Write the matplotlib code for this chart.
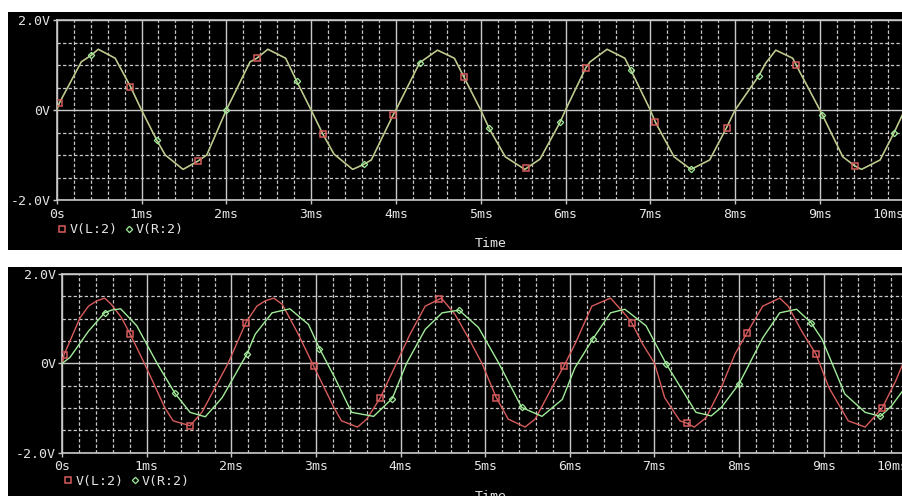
import matplotlib.pyplot as plt
import numpy as np
from matplotlib.patches import Rectangle
from matplotlib.lines import Line2D

# ---- data read off the two PSpice probe windows (time in ms, volts) ----
# top window: V(L:2) and V(R:2) lie on top of each other
top_t = [0.00, 0.03, 0.29, 0.41, 0.49, 0.69, 0.87, 1.00, 1.18, 1.28, 1.49, 1.67, 1.77,
         2.00, 2.28, 2.36, 2.49, 2.70, 2.83, 3.00, 3.14, 3.27, 3.49, 3.62, 3.71, 3.97,
         4.00, 4.28, 4.49, 4.69, 4.80, 5.00, 5.10, 5.29, 5.52, 5.70, 5.94, 6.00, 6.24,
         6.29, 6.49, 6.70, 6.77, 7.00, 7.06, 7.28, 7.48, 7.70, 7.90, 8.00, 8.28, 8.36,
         8.48, 8.68, 8.72, 9.00, 9.03, 9.27, 9.41, 9.49, 9.71, 9.87, 10.00]
top_v = [0.00, 0.15, 1.07, 1.22, 1.35, 1.15, 0.52, 0.00, -0.67, -1.00, -1.32, -1.13, -1.00,
         0.00, 1.07, 1.15, 1.35, 1.15, 0.64, 0.00, -0.54, -0.98, -1.32, -1.21, -1.11, -0.10,
         0.00, 1.05, 1.33, 1.15, 0.74, 0.00, -0.41, -1.04, -1.32, -1.09, -0.26, 0.00, 0.94,
         1.07, 1.35, 1.15, 0.89, 0.00, -0.27, -1.04, -1.32, -1.11, -0.39, 0.00, 0.76, 1.04,
         1.33, 1.15, 1.00, 0.00, -0.11, -1.04, -1.24, -1.32, -1.11, -0.52, 0.00]
top_l_mark_t = [0.03, 0.87, 1.67, 2.36, 3.14, 3.97, 4.80, 5.53, 6.24, 7.06, 7.90, 8.72, 9.41]
top_l_mark_v = [0.15, 0.52, -1.13, 1.15, -0.54, -0.10, 0.74, -1.28, 0.94, -0.27, -0.39, 1.00, -1.24]
top_r_mark_t = [0.41, 1.18, 2.00, 2.83, 3.62, 4.28, 5.10, 5.94, 6.77, 7.48, 8.28, 9.03, 9.87]
top_r_mark_v = [1.22, -0.67, 0.00, 0.64, -1.21, 1.05, -0.41, -0.26, 0.89, -1.32, 0.76, -0.11, -0.52]

# bottom window: V(L:2) leads, V(R:2) lags and is smaller
bot_l_t = [0.00, 0.02, 0.21, 0.31, 0.41, 0.50, 0.58, 0.70, 0.80, 0.97, 1.21, 1.31, 1.51, 1.65,
           1.96, 2.17, 2.30, 2.40, 2.50, 2.60, 2.79, 2.97, 3.21, 3.30, 3.49, 3.60, 3.76, 3.95,
           4.11, 4.29, 4.45, 4.48, 4.64, 4.80, 4.96, 5.13, 5.27, 5.47, 5.59, 5.79, 5.93, 6.06,
           6.26, 6.48, 6.65, 6.73, 6.86, 7.00, 7.12, 7.30, 7.38, 7.47, 7.61, 7.79, 7.95, 8.09,
           8.28, 8.48, 8.58, 8.74, 8.91, 9.06, 9.29, 9.49, 9.69, 9.85, 10.00]
bot_l_v = [0.00, 0.19, 1.02, 1.28, 1.40, 1.46, 1.32, 1.02, 0.66, 0.00, -0.99, -1.29, -1.40, -1.10,
           0.00, 0.91, 1.28, 1.40, 1.46, 1.32, 0.65, -0.06, -0.99, -1.29, -1.43, -1.25, -0.77, 0.00,
           0.65, 1.28, 1.43, 1.46, 1.10, 0.57, 0.00, -0.77, -1.25, -1.43, -1.25, -0.54, -0.06, 0.43,
           1.28, 1.46, 1.10, 0.91, 0.43, 0.00, -0.77, -1.29, -1.34, -1.43, -1.22, -0.54, 0.20, 0.67,
           1.28, 1.46, 1.28, 0.72, 0.20, -0.54, -1.29, -1.43, -1.01, -0.40, 0.28]
bot_r_t = [0.00, 0.09, 0.31, 0.50, 0.58, 0.69, 0.88, 1.12, 1.33, 1.51, 1.69, 1.89, 2.12, 2.18,
           2.28, 2.48, 2.69, 2.91, 3.04, 3.22, 3.42, 3.68, 3.90, 4.07, 4.29, 4.49, 4.69, 4.92,
           5.16, 5.43, 5.67, 5.91, 6.06, 6.27, 6.48, 6.65, 6.90, 7.14, 7.49, 7.67, 7.79, 8.00,
           8.28, 8.48, 8.68, 8.85, 8.98, 9.25, 9.49, 9.67, 9.80, 10.00]
bot_r_v = [0.00, 0.13, 0.72, 1.13, 1.19, 1.22, 0.84, 0.00, -0.67, -1.10, -1.20, -0.77, 0.00, 0.20,
           0.65, 1.13, 1.22, 0.87, 0.33, -0.32, -1.10, -1.19, -0.79, 0.00, 0.76, 1.13, 1.19, 0.80,
           0.00, -0.99, -1.19, -0.81, -0.10, 0.54, 1.13, 1.21, 0.84, -0.02, -1.10, -1.18, -0.99,
           -0.46, 0.57, 1.13, 1.21, 0.91, 0.54, -0.69, -1.10, -1.19, -0.96, -0.45]
bot_l_mark_t = [0.02, 0.80, 1.51, 2.17, 2.97, 3.76, 4.45, 5.13, 5.93, 6.73, 7.38, 8.09, 8.91, 9.69]
bot_l_mark_v = [0.19, 0.66, -1.40, 0.91, -0.06, -0.77, 1.43, -0.77, -0.06, 0.91, -1.34, 0.67, 0.20, -1.01]
bot_r_mark_t = [0.50, 1.33, 2.18, 3.04, 3.90, 4.69, 5.43, 6.27, 7.14, 8.00, 8.85, 9.67]
bot_r_mark_v = [1.13, -0.67, 0.20, 0.33, -0.79, 1.19, -0.99, 0.54, -0.02, -0.46, 0.91, -1.19]

x_labels = ['0s', '1ms', '2ms', '3ms', '4ms', '5ms', '6ms', '7ms', '8ms', '9ms', '10ms']
y_labels = ['-2.0V', '0V', '2.0V']
trace_names = ['V(L:2)', 'V(R:2)']

W, H = 903, 496
RED = '#d85c5c'
GREEN = '#a0ec98'
GRID = '#c8c8c8'
TXT = '#e4e4e4'
FONT = 'DejaVu Sans Mono'
FS = 9.5

plt.rcParams['lines.scale_dashes'] = False
fig = plt.figure(figsize=(W / 100, H / 100), dpi=100, facecolor='white')


def px_box(x0, x1, ytop, ybot):
    return [x0 / W, 1 - ybot / H, (x1 - x0) / W, (ybot - ytop) / H]


def make_panel(panel, plot, legend_xy, time_y):
    # black window behind the plot
    b = px_box(*panel)
    fig.add_artist(Rectangle((b[0], b[1]), b[2], b[3], transform=fig.transFigure,
                             facecolor='black', edgecolor='none', zorder=0))
    ax = fig.add_axes(px_box(*plot))
    ax.set_facecolor('none')
    ax.set_xlim(0, 10)
    ax.set_ylim(-2, 2)
    ax.set_xticks(np.arange(0, 11, 1))
    ax.set_xticks(np.arange(0, 10.01, 0.2), minor=True)
    ax.set_yticks([-2, 0, 2])
    ax.set_yticks([-1.5, -1, -0.5, 0.5, 1, 1.5], minor=True)
    ax.set_xticklabels(x_labels, fontfamily=FONT, fontsize=FS, color=TXT)
    ax.set_yticklabels(y_labels, fontfamily=FONT, fontsize=FS, color=TXT)
    ax.get_xticklabels()[-1].set_horizontalalignment('right')
    ax.tick_params(which='major', length=3, width=1, color=GRID, pad=2.5)
    ax.tick_params(axis='y', which='major', pad=1.5)
    ax.tick_params(which='minor', length=0)
    ax.grid(which='major', color=GRID, lw=1.0, ls='-')
    ax.grid(which='minor', color=GRID, lw=0.9, dashes=(2.4, 1.6))
    for s in ['top', 'bottom', 'left']:
        ax.spines[s].set_color(GRID)
        ax.spines[s].set_linewidth(1.2)
    ax.spines['right'].set_visible(False)
    ax.set_axisbelow(True)

    handles = [Line2D([], [], ls='none', marker='s', ms=4.5, mfc='none', mec=RED, mew=1.1),
               Line2D([], [], ls='none', marker='D', ms=3.2, mfc='none', mec=GREEN, mew=0.9)]
    leg = ax.legend(handles, trace_names, loc='center left',
                    bbox_to_anchor=(legend_xy[0] / W, 1 - legend_xy[1] / H),
                    bbox_transform=fig.transFigure, ncol=2, frameon=False,
                    borderpad=0, borderaxespad=0, handlelength=0.8, handletextpad=0.15,
                    columnspacing=0.45, prop={'family': FONT, 'size': FS})
    for t in leg.get_texts():
        t.set_color(TXT)
    fig.text(491 / W, 1 - time_y / H, 'Time', ha='center', va='center',
             fontfamily=FONT, fontsize=FS, color=TXT)
    return ax


ax1 = make_panel((8, 903, 12, 250), (56.7, 904.7, 20, 200), (57, 230), 243)
ax1.plot(top_t, top_v, color=RED, lw=1.1, zorder=3)
ax1.plot(top_t, top_v, color=GREEN, lw=1.0, alpha=0.85, zorder=4)
ax1.plot(top_l_mark_t, top_l_mark_v, ls='none', marker='s', ms=4.5, mfc='none',
         mec=RED, mew=1.1, zorder=5)
ax1.plot(top_r_mark_t, top_r_mark_v, ls='none', marker='D', ms=3.2, mfc='none',
         mec=GREEN, mew=0.9, zorder=5)

ax2 = make_panel((8, 903, 267, 500), (62.3, 908.3, 274, 452.5), (63, 481), 496)
ax2.plot(bot_l_t, bot_l_v, color=RED, lw=1.0, zorder=3)
ax2.plot(bot_r_t, bot_r_v, color=GREEN, lw=1.0, zorder=4)
ax2.plot(bot_l_mark_t, bot_l_mark_v, ls='none', marker='s', ms=4.5, mfc='none',
         mec=RED, mew=1.1, zorder=5)
ax2.plot(bot_r_mark_t, bot_r_mark_v, ls='none', marker='D', ms=3.2, mfc='none',
         mec=GREEN, mew=0.9, zorder=5)

fig.savefig('out.png', dpi=100, facecolor='white')
